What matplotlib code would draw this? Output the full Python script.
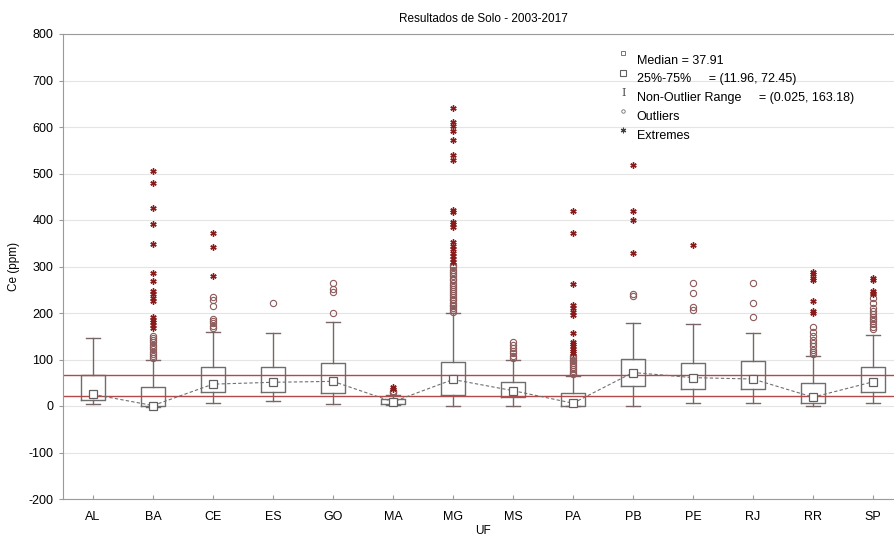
import numpy as np
import matplotlib
matplotlib.use("Agg")
import matplotlib.pyplot as plt

plt.rcParams['font.family'] = ['Liberation Sans', 'DejaVu Sans']
plt.rcParams['axes.unicode_minus'] = False

# Box statistics (Ce, ppm) per UF
uf = ['AL', 'BA', 'CE', 'ES', 'GO', 'MA', 'MG', 'MS', 'PA', 'PB', 'PE', 'RJ', 'RR', 'SP']
median = [25, 1, 47, 51, 53, 9, 57, 33, 6, 72, 61, 58, 19, 52]
q1 = [13, -1, 31, 31, 29, 5, 24, 19, 1, 42, 36, 37, 7, 31]
q3 = [67, 40, 83, 83, 93, 14, 95, 52, 29, 101, 93, 97, 49, 83]
whis_lo = [4, -3, 7, 11, 4, 2, 0, 1, -1, 0, 6, 7, 1, 6]
whis_hi = [147, 99, 160, 158, 180, 24, 200, 99, 65, 179, 176, 157, 108, 153]

outliers = [
    [],
    [150, 146, 142, 137, 132, 127, 122, 117, 112, 107, 103],
    [235, 229, 216, 188, 183, 178, 172, 167],
    [221],
    [264, 251, 245, 201],
    [33, 30, 27],
    [303, 298, 293, 288, 283, 279, 274, 270, 265, 261, 256, 252, 248, 243,
     239, 235, 231, 227, 222, 218, 214, 210, 206, 203],
    [138, 131, 124, 118, 113, 108, 104],
    [108, 104, 100, 96, 92, 88, 84, 80, 76, 72, 69],
    [240, 237],
    [264, 244, 212, 207],
    [265, 222, 192],
    [170, 160, 150, 142, 135, 128, 121, 116, 112],
    [232, 222, 210, 204, 198, 192, 187, 182, 176, 170, 165],
]
extremes = [
    [],
    [506, 479, 425, 391, 348, 285, 268, 248, 240, 233, 225, 192, 186, 180, 174, 168],
    [371, 343, 280],
    [],
    [],
    [40, 37],
    [640, 611, 603, 592, 572, 540, 529, 421, 418, 396, 391, 386, 353, 345,
     338, 330, 322, 316, 310],
    [],
    [420, 373, 262, 217, 210, 203, 196, 156, 138, 133, 128, 123, 118, 113],
    [518, 419, 400, 328],
    [346],
    [],
    [288, 283, 276, 270, 225, 205, 200],
    [275, 270, 248, 244, 240],
]

# overall quartile band and legend values
band = [22, 67]
legend_lines = ['Median = 37.91',
                '25%-75%     = (11.96, 72.45)',
                'Non-Outlier Range     = (0.025, 163.18)',
                'Outliers',
                'Extremes']

box_col = '#6e6e6e'
red = '#8b1a1a'
band_col = '#b24848'

fig = plt.figure(figsize=(8.95, 5.39), dpi=100)
ax = fig.add_axes([63 / 895, 1 - 499 / 539, 840 / 895, 465 / 539])

x = np.arange(len(uf))

stats = []
for i in range(len(uf)):
    stats.append(dict(med=median[i], q1=q1[i], q3=q3[i],
                      whislo=whis_lo[i], whishi=whis_hi[i], fliers=[]))

ax.bxp(stats, positions=x, widths=0.4, capwidths=0.22, showfliers=False,
       boxprops=dict(color=box_col, linewidth=1.0),
       whiskerprops=dict(color='#7a6666', linewidth=1.0),
       capprops=dict(color='#7a6666', linewidth=1.0),
       medianprops=dict(linewidth=0), manage_ticks=False)

# median connecting line and markers
ax.plot(x, median, linestyle=(0, (3, 2)), color='#707070', linewidth=0.8, zorder=3)
ax.plot(x, median, linestyle='none', marker='s', markersize=5.5,
        markerfacecolor='white', markeredgecolor='#606060', markeredgewidth=0.9, zorder=4)

# outliers and extremes
for i in range(len(uf)):
    if outliers[i]:
        ax.plot([x[i]] * len(outliers[i]), outliers[i], linestyle='none', marker='o',
                markersize=4.5, markerfacecolor='none', markeredgecolor='#8c5a5a',
                markeredgewidth=0.8, zorder=5)
    if extremes[i]:
        ax.plot([x[i]] * len(extremes[i]), extremes[i], linestyle='none', marker=(6, 2, 0),
                markersize=4.5, markeredgecolor=red, markeredgewidth=1.0, zorder=5)

# quartile band of the whole sample
for b in band:
    ax.axhline(b, color=band_col, linewidth=1.0, zorder=2)

ax.set_xlim(-0.5, 13.5)
ax.set_ylim(-200, 800)
ax.set_yticks(np.arange(-200, 801, 100))
ax.set_xticks(x)
ax.set_xticklabels(uf)
ax.yaxis.grid(True, color='#e4e4e4', linewidth=0.8)
ax.set_axisbelow(True)
for s in ax.spines.values():
    s.set_color('#9a9a9a')
ax.tick_params(axis='y', length=3, color='#9a9a9a', labelsize=9, pad=4)
ax.tick_params(axis='x', length=3, direction='in', color='#9a9a9a', labelsize=9, pad=9)

ax.set_title('Resultados de Solo - 2003-2017', fontsize=8.5, pad=9)
ax.set_xlabel('UF', fontsize=8.5, labelpad=1)
ax.set_ylabel('Ce (ppm)', fontsize=8.5)
ax.yaxis.set_label_coords(-0.051, 0.5)

# legend drawn as text block
ty = [0.943, 0.904, 0.862, 0.821, 0.781]
sx = 0.667
tx = 0.683
for k, txt in enumerate(legend_lines):
    ax.text(tx, ty[k], txt, transform=ax.transAxes, fontsize=9, va='center', ha='left')
ax.plot([sx], [ty[0] + 0.016], marker='s', markersize=2.5, markerfacecolor='white',
        markeredgecolor='#606060', markeredgewidth=0.6, transform=ax.transAxes, clip_on=False)
ax.plot([sx], [ty[1] + 0.012], marker='s', markersize=5, markerfacecolor='white',
        markeredgecolor='#606060', markeredgewidth=0.8, transform=ax.transAxes, clip_on=False)
ax.text(sx, ty[2] + 0.012, 'I', transform=ax.transAxes, fontsize=8, family='DejaVu Serif',
        color='#505050', ha='center', va='center')
ax.plot([sx], [ty[3] + 0.014], marker='o', markersize=2.5, markerfacecolor='none',
        markeredgecolor='#707070', markeredgewidth=0.6, transform=ax.transAxes, clip_on=False)
ax.plot([sx], [ty[4] + 0.012], marker=(6, 2, 0), markersize=4, markeredgecolor='#404040',
        markeredgewidth=0.8, transform=ax.transAxes, clip_on=False)

fig.savefig('out.png', dpi=100)
